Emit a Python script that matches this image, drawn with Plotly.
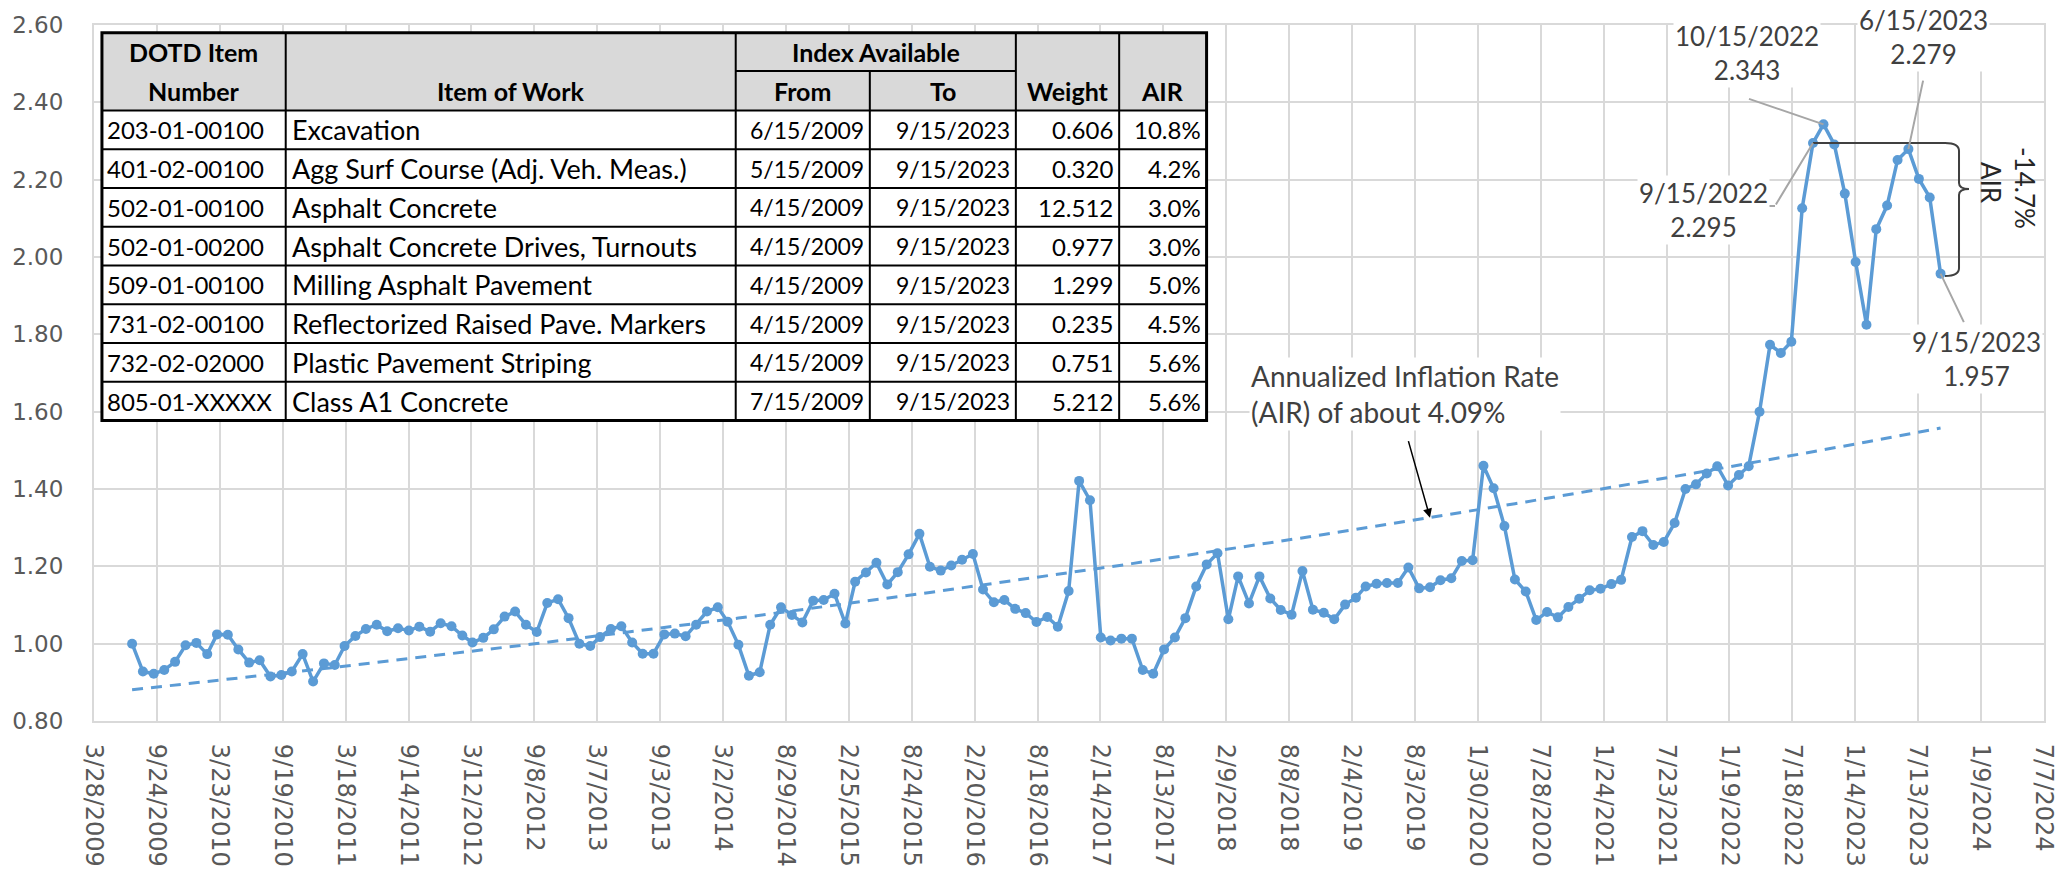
import numpy as np
import pandas as pd
import plotly.graph_objects as go

# ---------------- data (monthly composite index, 15th of each month) ----------------
idx_2009 = [1.000, 0.928, 0.922, 0.932, 0.953, 0.996]  # Jul-Dec
idx_2010 = [1.002, 0.973, 1.024, 1.023, 0.985, 0.951, 0.957, 0.915, 0.919, 0.928, 0.973, 0.902]
idx_2011 = [0.949, 0.945, 0.994, 1.020, 1.038, 1.049, 1.032, 1.040, 1.034, 1.044, 1.031, 1.053]
idx_2012 = [1.045, 1.021, 1.003, 1.015, 1.037, 1.070, 1.083, 1.049, 1.030, 1.105, 1.115, 1.066]
idx_2013 = [1.000, 0.994, 1.017, 1.038, 1.045, 1.003, 0.974, 0.974, 1.024, 1.026, 1.019, 1.049]
idx_2014 = [1.083, 1.094, 1.057, 0.997, 0.917, 0.926, 1.049, 1.094, 1.074, 1.055, 1.111, 1.113]
idx_2015 = [1.129, 1.052, 1.160, 1.184, 1.209, 1.153, 1.185, 1.231, 1.284, 1.199, 1.189, 1.202]
idx_2016 = [1.217, 1.232, 1.140, 1.107, 1.113, 1.090, 1.079, 1.056, 1.069, 1.044, 1.136, 1.421]
idx_2017 = [1.371, 1.016, 1.008, 1.013, 1.013, 0.932, 0.922, 0.985, 1.016, 1.066, 1.148, 1.205]
idx_2018 = [1.234, 1.063, 1.174, 1.104, 1.174, 1.117, 1.087, 1.075, 1.188, 1.088, 1.080, 1.063]
idx_2019 = [1.101, 1.119, 1.148, 1.155, 1.157, 1.157, 1.197, 1.143, 1.146, 1.164, 1.169, 1.214]
idx_2020 = [1.216, 1.460, 1.402, 1.304, 1.166, 1.135, 1.061, 1.082, 1.068, 1.095, 1.116, 1.138]
idx_2021 = [1.142, 1.154, 1.165, 1.276, 1.291, 1.255, 1.263, 1.312, 1.400, 1.412, 1.440, 1.459]
idx_2022 = [1.409, 1.436, 1.459, 1.600, 1.773, 1.752, 1.781, 2.126, 2.295, 2.343, 2.291, 2.164]
idx_2023 = [1.987, 1.825, 2.072, 2.133, 2.251, 2.279, 2.202, 2.154, 1.957]  # Jan-Sep

first_month = "2009-07-01"

# table contents
item_numbers = ["203-01-00100", "401-02-00100", "502-01-00100", "502-01-00200",
                "509-01-00100", "731-02-00100", "732-02-02000", "805-01-XXXXX"]
items_of_work = ["Excavation", "Agg Surf Course (Adj. Veh. Meas.)", "Asphalt Concrete",
                 "Asphalt Concrete Drives, Turnouts", "Milling Asphalt Pavement",
                 "Reflectorized Raised Pave. Markers", "Plastic Pavement Striping",
                 "Class A1 Concrete"]
from_dates = ["6/15/2009", "5/15/2009", "4/15/2009", "4/15/2009",
              "4/15/2009", "4/15/2009", "4/15/2009", "7/15/2009"]
to_dates = ["9/15/2023", "9/15/2023", "9/15/2023", "9/15/2023",
            "9/15/2023", "9/15/2023", "9/15/2023", "9/15/2023"]
weights = [0.606, 0.320, 12.512, 0.977, 1.299, 0.235, 0.751, 5.212]
air_pct = [10.8, 4.2, 3.0, 3.0, 5.0, 4.5, 5.6, 5.6]

x_start, x_end = "2009-03-28", "2024-07-07"
tick_step_days = 180

# ---------------- build series ----------------
values = np.array(idx_2009 + idx_2010 + idx_2011 + idx_2012 + idx_2013 + idx_2014 +
                  idx_2015 + idx_2016 + idx_2017 + idx_2018 + idx_2019 + idx_2020 +
                  idx_2021 + idx_2022 + idx_2023)
dates = pd.date_range(first_month, periods=len(values), freq="MS") + pd.Timedelta(days=14)

# exponential trend (least squares on log values, like an Excel exponential trendline)
t_days = np.asarray((dates - dates[0]).days, dtype=float)
b, ln_a = np.polyfit(t_days, np.log(values), 1)
trend = np.exp(ln_a + b * t_days)

BLUE = "#5B9BD5"
GRID = "#D9D9D9"
TXT = "#404040"

W, H = 2070, 879
ML, MR, MT, MB = 92, 15, 16, 152
PW, PH = W - ML - MR, H - MT - MB


def pxx(p):
    return (p - ML) / PW


def pxy(p):
    return (H - MB - p) / PH


fig = go.Figure()
fig.add_trace(go.Scatter(x=dates, y=trend, mode="lines",
                         line=dict(color=BLUE, width=3, dash="11px,8px"),
                         hoverinfo="skip", showlegend=False))
fig.add_trace(go.Scatter(x=dates, y=values, mode="lines+markers",
                         line=dict(color=BLUE, width=3.5),
                         marker=dict(size=10, color=BLUE),
                         showlegend=False))

shapes = []
annos = []

# ---------------- table ----------------
col_edges = [100, 285, 738, 873, 1020, 1124, 1212]
top, mid, hdr_bot = 24, 63, 103.3
row_h = 39.6
body_rows = [hdr_bot + k * row_h for k in range(len(item_numbers) + 1)]
tbl_bot = body_rows[-1]


def rect(x0, y0, x1, y1, fill, lw=0, lc="black"):
    shapes.append(dict(type="rect", xref="paper", yref="paper",
                       x0=pxx(x0), x1=pxx(x1), y0=pxy(y1), y1=pxy(y0),
                       fillcolor=fill, line=dict(width=lw, color=lc), layer="above"))


def hline(x0, x1, y, lw=2):
    shapes.append(dict(type="line", xref="paper", yref="paper",
                       x0=pxx(x0), x1=pxx(x1), y0=pxy(y), y1=pxy(y),
                       line=dict(width=lw, color="black"), layer="above"))


def vline(x, y0, y1, lw=2):
    shapes.append(dict(type="line", xref="paper", yref="paper",
                       x0=pxx(x), x1=pxx(x), y0=pxy(y0), y1=pxy(y1),
                       line=dict(width=lw, color="black"), layer="above"))


rect(col_edges[0], top, col_edges[-1], hdr_bot, "#D9D9D9")
rect(col_edges[0], hdr_bot, col_edges[-1], tbl_bot, "white")
for y in body_rows[:-1]:
    hline(col_edges[0], col_edges[-1], y)
hline(col_edges[2], col_edges[4], mid)
for x in [col_edges[1], col_edges[2], col_edges[4], col_edges[5]]:
    vline(x, top, tbl_bot)
vline(col_edges[3], mid, tbl_bot)
rect(col_edges[0], top, col_edges[-1], tbl_bot, "rgba(0,0,0,0)", lw=3)

TBL_FONT = "Lato"


def ttext(txt, x, y, anchor, bold=False, size=26):
    annos.append(dict(xref="paper", yref="paper", x=pxx(x), y=pxy(y), text=txt,
                      showarrow=False, xanchor=anchor, yanchor="middle",
                      font=dict(family=TBL_FONT, size=size, color="black",
                                weight=700 if bold else 400)))


cc = [(col_edges[i] + col_edges[i + 1]) / 2 for i in range(6)]
hr1 = (top + mid) / 2
hr2 = (mid + hdr_bot) / 2
HS = 25
ttext("DOTD Item", cc[0], hr1, "center", True, HS)
ttext("Number", cc[0], hr2, "center", True, HS)
ttext("Item of Work", cc[1], hr2, "center", True, HS)
ttext("Index Available", (col_edges[2] + col_edges[4]) / 2, hr1, "center", True, HS)
ttext("From", cc[2], hr2, "center", True, HS)
ttext("To", cc[3], hr2, "center", True, HS)
ttext("Weight", cc[4], hr2, "center", True, HS)
ttext("AIR", cc[5], hr2, "center", True, HS)
for r in range(len(item_numbers)):
    yc = (body_rows[r] + body_rows[r + 1]) / 2
    ttext(item_numbers[r], col_edges[0] + 3, yc, "left", size=24)
    ttext(items_of_work[r], col_edges[1] + 4, yc, "left", size=27)
    ttext(from_dates[r], col_edges[3] - 4, yc, "right", size=23)
    ttext(to_dates[r], col_edges[4] - 4, yc, "right", size=23)
    ttext(f"{weights[r]:.3f}", col_edges[5] - 4, yc, "right", size=24)
    ttext(f"{air_pct[r]:.1f}%", col_edges[6] - 4, yc, "right", size=24)

# ---------------- callouts ----------------
LBL_FONT = dict(family="Lato", size=26, color=TXT)


def callout(i, xs, ys):
    annos.append(dict(x=dates[i], y=values[i], xref="x", yref="y",
                      text=f"{dates[i].month}/{dates[i].day}/{dates[i].year}<br>{values[i]:.3f}",
                      showarrow=False, xshift=xs, yshift=ys, bgcolor="white",
                      font=LBL_FONT, align="center"))


def leader(i, ax, ay, xs=0, ys=0, color="#A6A6A6"):
    annos.append(dict(x=dates[i], y=values[i], xref="x", yref="y", text="",
                      showarrow=True, arrowhead=0, arrowwidth=2, arrowcolor=color,
                      ax=ax, ay=ay, xshift=xs, yshift=ys, standoff=0))


i_sep22 = list(dates).index(pd.Timestamp("2022-09-15"))
i_oct22 = list(dates).index(pd.Timestamp("2022-10-15"))
i_jun23 = list(dates).index(pd.Timestamp("2023-06-15"))
i_sep23 = len(values) - 1

leader(i_oct22, -76, -26)
leader(i_sep22, -38, 63)
leader(i_sep22, -12, 0, xs=-38, ys=-63)
leader(i_jun23, 15, -70)
leader(i_sep23, 24, 50)
callout(i_oct22, -76, 71)
callout(i_sep22, -110, -67)
callout(i_jun23, 15, 112)
callout(i_sep23, 36, -85)

# AIR label with arrow onto the trend line
i_arrow = list(dates).index(pd.Timestamp("2019-09-15"))
annos.append(dict(x=dates[i_arrow], y=trend[i_arrow], xref="x", yref="y", text="",
                  showarrow=True, arrowhead=2, arrowsize=1.2, arrowwidth=1.5,
                  arrowcolor="black", ax=-22, ay=-78, standoff=0))
annos.append(dict(x=dates[i_arrow], y=trend[i_arrow], xref="x", yref="y",
                  text="Annualized Inflation Rate<br>(AIR) of about 4.09%",
                  showarrow=False, xanchor="left", yanchor="middle", align="left",
                  xshift=-181, yshift=124, bgcolor="white",
                  font=dict(family="Lato", size=28, color=TXT)))

# bracket showing the drop from 9/15/2022 to 9/15/2023
drop = values[i_sep23] / values[i_sep22] - 1
shapes.append(dict(type="path", xref="x", yref="y", xsizemode="pixel", ysizemode="pixel",
                   xanchor=dates[i_sep22], yanchor=values[i_sep22],
                   path="M 0,0 L 132,0 Q 146,0 146,-8 L 146,-40 Q 146,-46 156,-46 "
                        "Q 146,-46 146,-52 L 146,-125 Q 146,-133 132,-133",
                   line=dict(color=TXT, width=2), layer="above"))
annos.append(dict(x=dates[i_sep22], y=values[i_sep22], xref="x", yref="y", text="AIR",
                  showarrow=False, textangle=90, xshift=178, yshift=-40,
                  font=dict(family="Lato", size=26, color="#262626")))
annos.append(dict(x=dates[i_sep22], y=values[i_sep22], xref="x", yref="y",
                  text=f"{drop * 100:.1f}%", showarrow=False, textangle=90,
                  xshift=212, yshift=-45,
                  font=dict(family="Lato", size=26, color="#262626")))

fig.update_layout(
    width=W, height=H,
    margin=dict(l=ML, r=MR, t=MT, b=MB, pad=0),
    paper_bgcolor="white", plot_bgcolor="white",
    shapes=shapes, annotations=annos,
    xaxis=dict(type="date", range=[x_start, x_end], tick0=x_start,
               dtick=tick_step_days * 86400000, tickformat="%-m/%-d/%Y",
               tickangle=90, showgrid=True, gridcolor=GRID, gridwidth=2,
               showline=True, linecolor=GRID, linewidth=2, mirror=True,
               ticks="", zeroline=False, ticklabelstandoff=16,
               tickfont=dict(family="DejaVu Sans", size=24, color="#595959")),
    yaxis=dict(range=[0.8, 2.6], dtick=0.2, tick0=0.8, tickformat=".2f",
               showgrid=True, gridcolor=GRID, gridwidth=2,
               showline=True, linecolor=GRID, linewidth=2, mirror=True,
               ticks="", zeroline=False, ticklabelstandoff=24,
               tickfont=dict(family="DejaVu Sans", size=23, color="#595959")),
)

fig.write_html("out.html", config={"displayModeBar": False},
               post_script="document.body.style.margin='0px';")
